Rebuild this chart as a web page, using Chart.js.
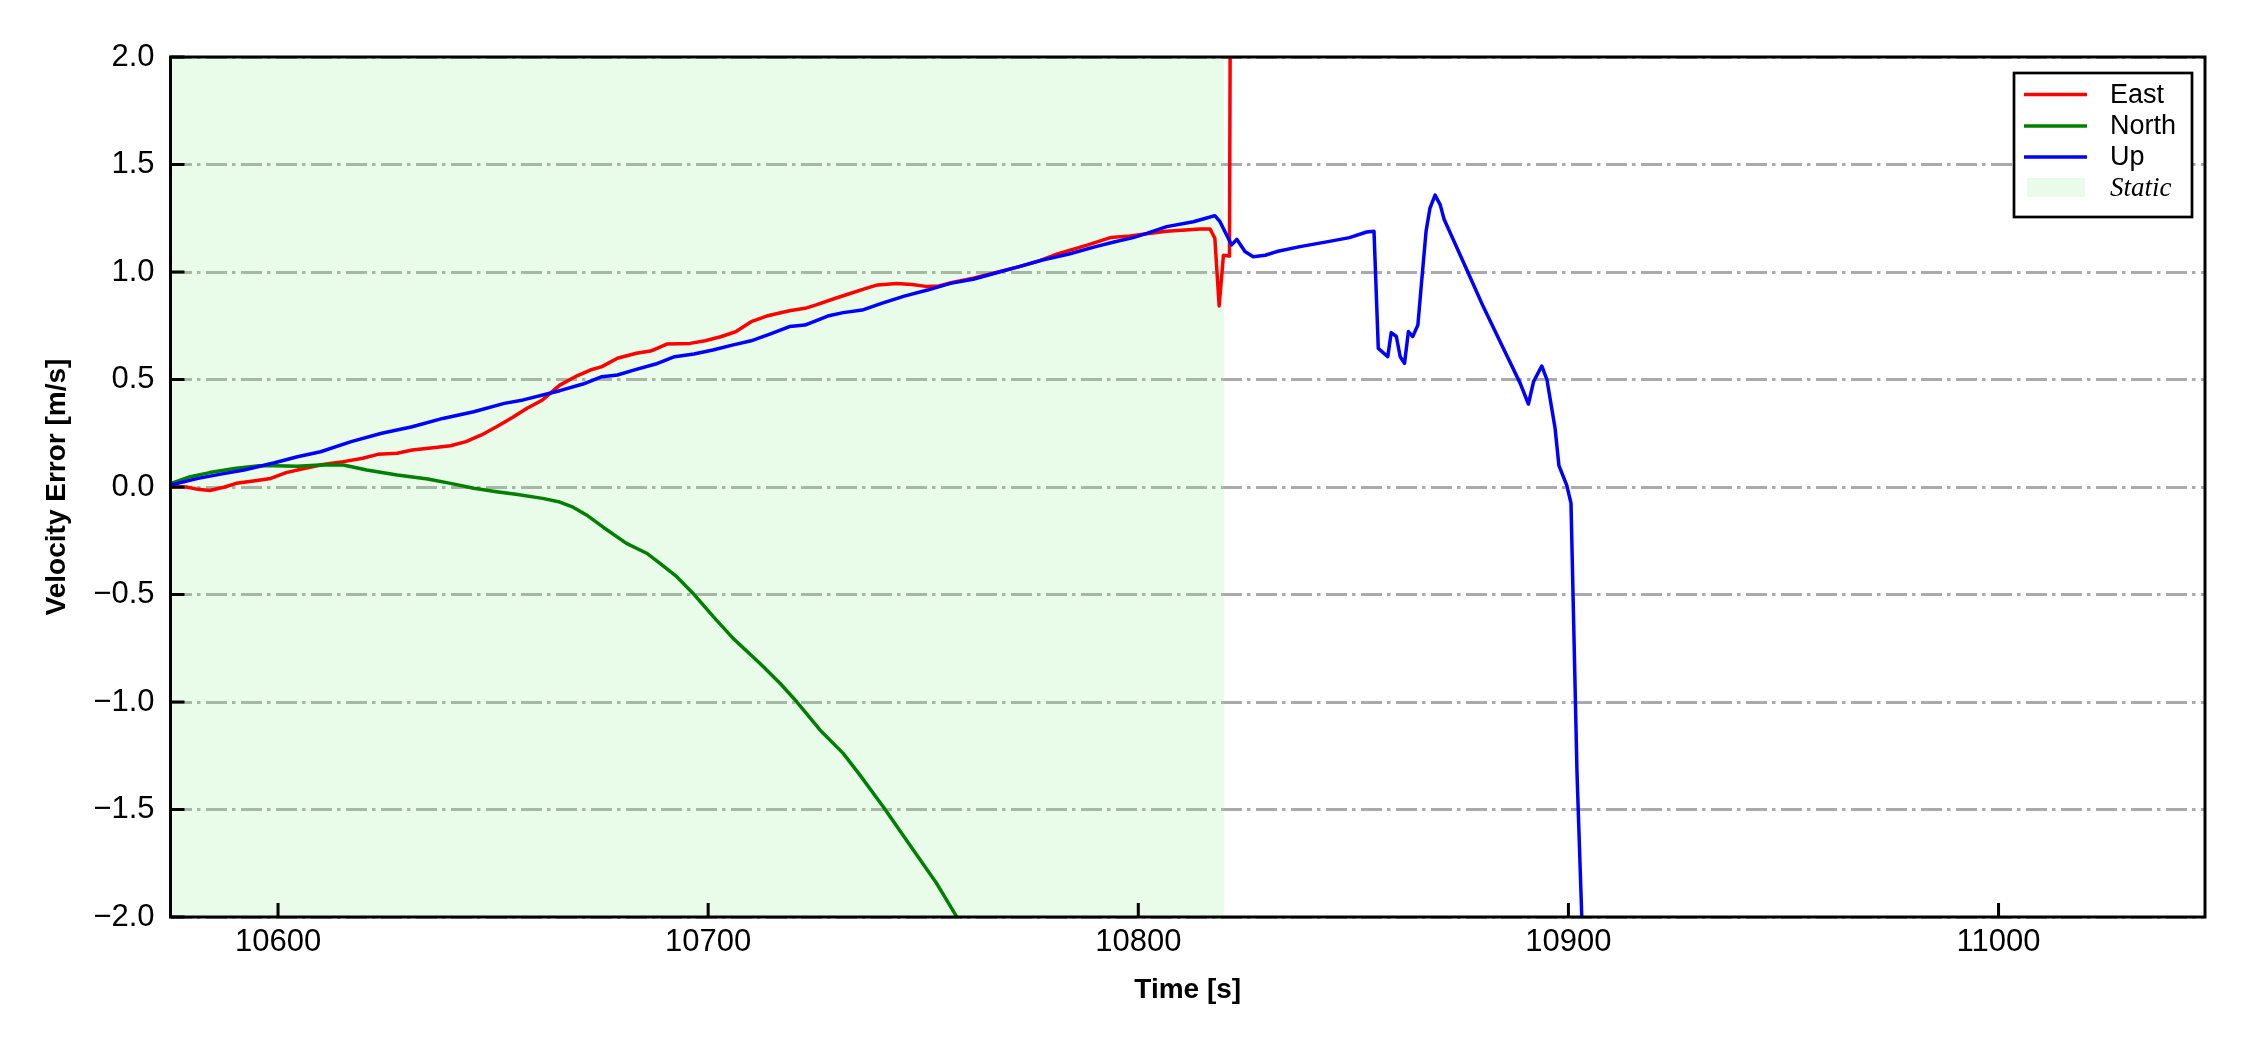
<!DOCTYPE html>
<html>
<head>
<meta charset="utf-8">
<script src="https://cdn.jsdelivr.net/npm/chart.js@4.4.1/dist/chart.umd.min.js"></script>
<style>
  html, body { margin: 0; padding: 0; background: #fff; }
  canvas { display: block; }
</style>
</head>
<body>
<canvas id="chart" width="2250" height="1050" style="width:2250px;height:1050px"></canvas>
<script>
// axis limits and ticks
const xMin = 10575
const xMax = 11048
const xTicks = [10600, 10700, 10800, 10900, 11000]
const yTicks = [-2.0, -1.5, -1.0, -0.5, 0.0, 0.5, 1.0, 1.5, 2.0]

// static period [s]
const staticSpan = [10575, 10820]

// East velocity error
const eastT = [10575, 10578.7, 10581.4, 10584.1, 10587.6, 10590.3, 10594.7, 10598.3, 10601.9, 10606.3,
    10610.8, 10615.2, 10619.7, 10623.2, 10627.7, 10631.2, 10636.6, 10640.1, 10643.7, 10647.3,
    10650.8, 10654.4, 10657.9, 10661.5, 10665.5, 10669.1, 10672.6, 10675.3, 10678.9, 10683.3,
    10686.9, 10690.4, 10695.8, 10699.3, 10702.9, 10706.4, 10710.0, 10713.6, 10718.9, 10722.5,
    10725.1, 10729.6, 10733.2, 10736.7, 10739.4, 10743.8, 10747.4, 10751.0, 10753.6, 10757.0,
    10761.6, 10767.0, 10772.3, 10777.0, 10781.2, 10788.3, 10793.7, 10798.1, 10802.0, 10806.6,
    10811.0, 10814.3, 10816.7, 10817.8, 10818.8, 10819.8, 10820.7, 10821.2, 10821.4]
const eastV = [0.0, 0.0, -0.011, -0.016, 0.0, 0.017, 0.029, 0.040, 0.067, 0.087,
    0.106, 0.118, 0.134, 0.152, 0.157, 0.172, 0.184, 0.192, 0.211, 0.242,
    0.280, 0.322, 0.366, 0.405, 0.474, 0.513, 0.544, 0.560, 0.599, 0.622,
    0.634, 0.665, 0.668, 0.680, 0.699, 0.722, 0.769, 0.795, 0.820, 0.831,
    0.847, 0.878, 0.901, 0.924, 0.940, 0.947, 0.942, 0.932, 0.935, 0.952,
    0.971, 0.998, 1.025, 1.052, 1.084, 1.126, 1.161, 1.168, 1.178, 1.190,
    1.195, 1.200, 1.200, 1.157, 0.842, 1.078, 1.076, 1.074, 2.3]

// North velocity error
const northT = [10575, 10579.6, 10584.1, 10590.3, 10595.6, 10599.2, 10604.5, 10610.8, 10615.2, 10620.6,
    10627.7, 10634.8, 10640.1, 10645.5, 10650.8, 10655.3, 10661.5, 10665.5, 10668.6, 10671.7,
    10675.6, 10681.0, 10685.7, 10688.8, 10692.7, 10696.5, 10701.2, 10705.8, 10712.0, 10716.7,
    10720.6, 10726.0, 10731.4, 10735.3, 10740.7, 10747.7, 10753.1, 10757.8, 10758.5]
const northV = [0.015, 0.048, 0.067, 0.087, 0.099, 0.099, 0.097, 0.104, 0.102, 0.079,
    0.056, 0.037, 0.017, -0.006, -0.022, -0.034, -0.053, -0.070, -0.094, -0.130,
    -0.187, -0.262, -0.308, -0.355, -0.417, -0.495, -0.603, -0.704, -0.820, -0.913,
    -0.999, -1.130, -1.239, -1.340, -1.487, -1.688, -1.843, -1.999, -2.03]

// Up velocity error
const upT = [10575, 10581.4, 10586.7, 10592.1, 10599.2, 10604.5, 10609.9, 10617.0, 10624.1, 10631.2,
    10638.3, 10645.5, 10652.6, 10657.0, 10665.5, 10670.9, 10675.3, 10678.9, 10683.3, 10687.8,
    10692.2, 10696.7, 10701.1, 10705.6, 10710.0, 10714.5, 10718.9, 10722.5, 10727.8, 10731.4,
    10735.8, 10740.3, 10745.6, 10751.0, 10756.3, 10761.6, 10767.9, 10772.3, 10777.7, 10783.9,
    10790.1, 10794.6, 10798.8, 10802.0, 10806.6, 10812.8, 10815.7, 10817.8, 10819.0, 10821.7,
    10822.9, 10824.8, 10826.7, 10829.5, 10832.2, 10837.6, 10843.8, 10849.1, 10853.1, 10854.8,
    10855.8, 10858.0, 10858.8, 10860.0, 10860.9, 10861.9, 10862.8, 10863.8, 10865.0, 10865.7,
    10866.9, 10867.8, 10869.0, 10870.2, 10871.1, 10876.4, 10880.2, 10884.5, 10888.8, 10890.7,
    10891.9, 10893.8, 10895.0, 10896.9, 10897.8, 10899.6, 10900.6, 10902.0, 10903.1, 10903.2]
const upV = [0.009, 0.040, 0.060, 0.079, 0.113, 0.141, 0.164, 0.211, 0.250, 0.280,
    0.319, 0.350, 0.389, 0.405, 0.448, 0.479, 0.513, 0.521, 0.547, 0.572,
    0.606, 0.619, 0.637, 0.660, 0.680, 0.712, 0.746, 0.753, 0.795, 0.811,
    0.823, 0.854, 0.888, 0.916, 0.947, 0.966, 1.001, 1.025, 1.056, 1.084,
    1.118, 1.141, 1.160, 1.180, 1.211, 1.234, 1.250, 1.262, 1.234, 1.126,
    1.152, 1.095, 1.071, 1.078, 1.095, 1.118, 1.140, 1.160, 1.186, 1.190,
    0.645, 0.606, 0.718, 0.700, 0.606, 0.575, 0.723, 0.700, 0.753, 0.916,
    1.188, 1.296, 1.358, 1.312, 1.245, 1.009, 0.839, 0.660, 0.482, 0.386,
    0.490, 0.563, 0.500, 0.273, 0.099, 0.009, -0.075, -1.330, -1.994, -2.05]

const pts = (ts, vs) => ts.map((t, i) => ({ x: t, y: vs[i] }))

Chart.defaults.font.family = "'Liberation Sans', Arial, sans-serif"
Chart.defaults.color = '#000'

const tickFont = { size: 31 }
const titleFont = { size: 28, weight: 'bold', lineHeight: 1 }

// inward tick marks + black frame on top of the lines
const framePlugin = {
    id: 'frame',
    afterDatasetsDraw(chart) {
        const { ctx, chartArea: a, scales: { x, y } } = chart
        ctx.save()
        ctx.strokeStyle = '#000'
        ctx.lineWidth = 3
        ctx.beginPath()
        xTicks.forEach(v => {
            const px = x.getPixelForValue(v)
            ctx.moveTo(px, a.bottom)
            ctx.lineTo(px, a.bottom - 14)
        })
        yTicks.forEach(v => {
            const py = y.getPixelForValue(v)
            ctx.moveTo(a.left, py)
            ctx.lineTo(a.left + 14, py)
        })
        ctx.stroke()
        ctx.strokeRect(a.left, a.top, a.right - a.left, a.bottom - a.top)
        ctx.restore()
    }
}

// matplotlib-like boxed legend in the upper right
const legendPlugin = {
    id: 'boxLegend',
    afterDraw(chart) {
        const { ctx, chartArea: a } = chart
        const w = 178, h = 144
        const left = a.right - 13 - w
        const top = a.top + 16
        ctx.save()
        ctx.fillStyle = '#fff'
        ctx.fillRect(left, top, w, h)
        ctx.strokeStyle = '#000'
        ctx.lineWidth = 2.7
        ctx.strokeRect(left, top, w, h)

        const rows = [21.5, 53, 84, 114.5]
        ctx.textBaseline = 'middle'
        ctx.textAlign = 'left'
        chart.data.datasets.forEach((ds, i) => {
            const yy = top + rows[i]
            if (ds.fill) {
                ctx.fillStyle = ds.backgroundColor
                ctx.fillRect(left + 13, yy - 9.5, 58, 19)
                ctx.font = "italic 27px 'Liberation Serif', 'Times New Roman', serif"
            } else {
                ctx.strokeStyle = ds.borderColor
                ctx.lineWidth = ds.borderWidth
                ctx.beginPath()
                ctx.moveTo(left + 10, yy)
                ctx.lineTo(left + 73, yy)
                ctx.stroke()
                ctx.font = "27px 'Liberation Sans', Arial, sans-serif"
            }
            ctx.fillStyle = '#000'
            ctx.fillText(ds.label, left + 96, yy + 1)
        })
        ctx.restore()
    }
}

const lineStyle = {
    borderWidth: 3.5,
    pointRadius: 0,
    tension: 0,
    fill: false,
    borderJoinStyle: 'round',
    clip: 0
}

new Chart(document.getElementById('chart'), {
    type: 'line',
    data: {
        datasets: [
            { ...lineStyle, label: 'East', data: pts(eastT, eastV), borderColor: '#ff0000', order: 2 },
            { ...lineStyle, label: 'North', data: pts(northT, northV), borderColor: '#008000', order: 1 },
            { ...lineStyle, label: 'Up', data: pts(upT, upV), borderColor: '#0000ff', order: 0 },
            {
                label: 'Static',
                data: [{ x: staticSpan[0], y: yTicks[yTicks.length - 1] }, { x: staticSpan[1], y: yTicks[yTicks.length - 1] }],
                borderWidth: 0,
                pointRadius: 0,
                fill: 'start',
                backgroundColor: 'rgba(144, 238, 144, 0.2)',
                order: 3
            }
        ]
    },
    options: {
        responsive: false,
        animation: false,
        devicePixelRatio: 1,
        layout: { padding: { top: 57, right: 45, bottom: 0, left: 0 } },
        plugins: {
            legend: { display: false },
            tooltip: { enabled: false }
        },
        scales: {
            x: {
                type: 'linear',
                min: xMin,
                max: xMax,
                afterFit: s => { s.height = 133 },
                afterBuildTicks: s => { s.ticks = xTicks.map(v => ({ value: v })) },
                grid: { display: false, drawTicks: false },
                border: { display: false },
                ticks: { padding: 7, font: tickFont, color: '#000', maxRotation: 0, callback: v => String(v) },
                title: { display: true, text: 'Time [s]', font: titleFont, color: '#000', padding: { top: 0, bottom: 46 } }
            },
            y: {
                type: 'linear',
                min: yTicks[0],
                max: yTicks[yTicks.length - 1],
                afterFit: s => { s.width = 170.5 },
                afterBuildTicks: s => { s.ticks = yTicks.map(v => ({ value: v })) },
                grid: { color: '#aaaaaa', lineWidth: 3, drawTicks: false },
                border: { display: false, dash: [21, 5, 3.5, 5.5] },
                ticks: {
                    padding: 16,
                    font: tickFont,
                    color: '#000',
                    callback: v => (v < 0 ? '\u2212' : '') + Math.abs(v).toFixed(1)
                },
                title: { display: true, text: 'Velocity Error [m/s]', font: titleFont, color: '#000', padding: { top: 43, bottom: 0 } }
            }
        }
    },
    plugins: [framePlugin, legendPlugin]
})
</script>
</body>
</html>
